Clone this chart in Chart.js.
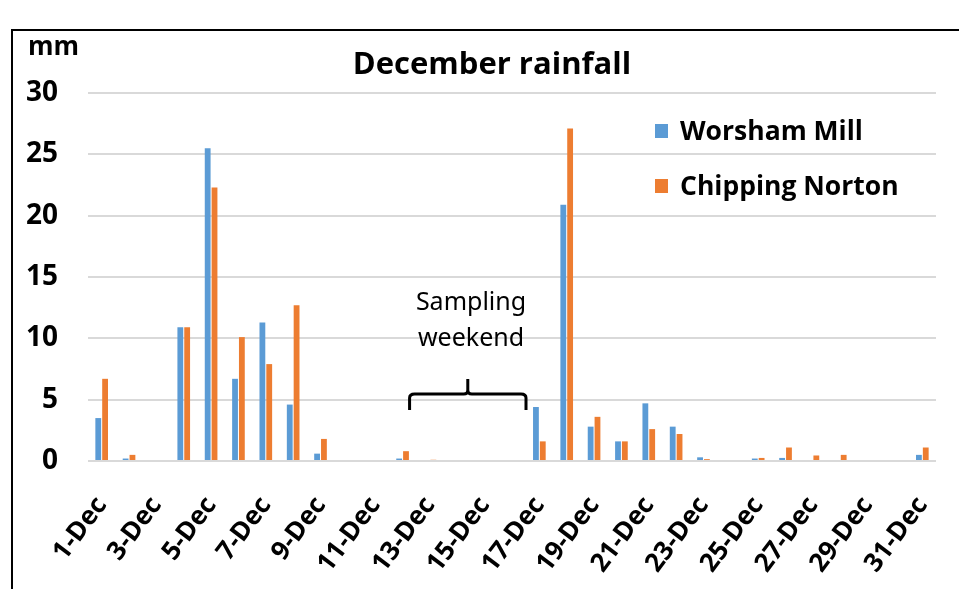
<!DOCTYPE html>
<html>
<head>
<meta charset="utf-8">
<script src="https://cdn.jsdelivr.net/npm/chart.js@4"></script>
<style>
  html, body { margin: 0; padding: 0; background: #fff; }
  #wrap { width: 959px; height: 589px; position: relative; }
</style>
</head>
<body>
<div id="wrap"><canvas id="myChart" width="959" height="589"></canvas></div>
<script>
const days = []
for (let d = 1; d <= 31; d++) days.push(d + '-Dec')

const worshamMill = [3.5, 0.2, 0, 10.9, 25.5, 6.7, 11.3, 4.6, 0.6, 0, 0, 0.2, 0, 0, 0, 0,
    4.4, 20.9, 2.8, 1.6, 4.7, 2.8, 0.3, 0, 0.2, 0.25, 0, 0, 0, 0, 0.5]
const chippingNorton = [6.7, 0.5, 0, 10.9, 22.3, 10.1, 7.9, 12.7, 1.8, 0, 0, 0.8, 0.1, 0, 0, 0,
    1.6, 27.1, 3.6, 1.6, 2.6, 2.2, 0.15, 0, 0.25, 1.1, 0.45, 0.5, 0, 0, 1.1]
const yTicks = [0, 5, 10, 15, 20, 25, 30]

const FONT = '"Open Sans", "Noto Sans", sans-serif'

// title, unit label, legend box, annotation and frame
const extras = {
    id: 'extras',
    afterDraw(chart) {
        const ctx = chart.ctx
        const x = chart.scales.x
        ctx.save()
        // frame
        ctx.strokeStyle = '#000'
        ctx.lineWidth = 2
        ctx.beginPath()
        ctx.moveTo(12, 589)
        ctx.lineTo(12, 30)
        ctx.lineTo(959, 30)
        ctx.stroke()

        ctx.fillStyle = '#000'
        ctx.textBaseline = 'alphabetic'
        ctx.font = 'bold 31px ' + FONT
        ctx.textAlign = 'center'
        ctx.fillText('December rainfall', 492, 74)

        ctx.font = 'bold 26px ' + FONT
        ctx.textAlign = 'left'
        ctx.fillText('mm', 28, 55)

        // legend
        ctx.font = 'bold 26.5px ' + FONT
        ctx.textBaseline = 'middle'
        const rows = [131, 186]
        chart.data.datasets.forEach((ds, i) => {
            ctx.fillStyle = ds.backgroundColor
            ctx.fillRect(655, rows[i] - 7, 13, 14)
            ctx.fillStyle = '#000'
            ctx.fillText(ds.label, 680, rows[i] + 1)
        })

        // sampling weekend
        ctx.font = '25px "Noto Sans", sans-serif'
        ctx.textAlign = 'center'
        ctx.fillText('Sampling', 471, 303)
        ctx.fillText('weekend', 471, 339)

        const x0 = x.getPixelForValue(11) + 7
        const x1 = x.getPixelForValue(15) + 14
        const xm = (x0 + x1) / 2
        ctx.lineWidth = 3
        ctx.beginPath()
        ctx.moveTo(x0, 410)
        ctx.lineTo(x0, 398)
        ctx.quadraticCurveTo(x0, 394, x0 + 5, 394)
        ctx.lineTo(xm - 4, 394)
        ctx.quadraticCurveTo(xm, 394, xm, 390)
        ctx.lineTo(xm, 379)
        ctx.moveTo(xm, 390)
        ctx.quadraticCurveTo(xm, 394, xm + 4, 394)
        ctx.lineTo(x1 - 5, 394)
        ctx.quadraticCurveTo(x1, 394, x1, 398)
        ctx.lineTo(x1, 410)
        ctx.stroke()
        ctx.restore()
    }
}

function render_chart() {
    const data = {
        labels: days,
        datasets: [
            {
                label: 'Worsham Mill',
                data: worshamMill,
                backgroundColor: '#5B9BD5',
            },
            {
                label: 'Chipping Norton',
                data: chippingNorton,
                backgroundColor: '#ED7D31',
            },
        ],
    }

    const config = {
        type: 'bar',
        data: data,
        options: {
            responsive: false,
            animation: false,
            layout: { padding: { top: 93, right: 23, left: 0, bottom: 0 } },
            categoryPercentage: 0.5,
            barPercentage: 0.85,
            plugins: {
                legend: { display: false },
                title: { display: false },
                tooltip: { enabled: false },
            },
            scales: {
                x: {
                    grid: { display: false, drawTicks: false },
                    border: { display: false },
                    ticks: {
                        autoSkip: false,
                        maxRotation: 53,
                        minRotation: 53,
                        padding: 30,
                        color: '#000',
                        font: { family: FONT, size: 26, weight: 'bold' },
                        callback: function (v, i) { return i % 2 === 0 ? days[i] : '' },
                    },
                    afterFit: function (s) {
                        s.height = 128
                        s.paddingLeft = 0
                        s.paddingRight = 0
                    },
                },
                y: {
                    min: 0,
                    max: 30,
                    afterBuildTicks: function (s) { s.ticks = yTicks.map(v => ({ value: v })) },
                    grid: { color: '#D9D9D9', lineWidth: 2, drawTicks: false },
                    border: { display: false },
                    ticks: {
                        padding: 30,
                        color: '#000',
                        font: { family: FONT, size: 28, weight: 'bold' },
                    },
                    afterFit: function (s) { s.width = 88 },
                },
            },
        },
        plugins: [extras],
    }

    const myChart = new Chart(document.getElementById('myChart'), config)
}

document.addEventListener('DOMContentLoaded', render_chart)
</script>
</body>
</html>
